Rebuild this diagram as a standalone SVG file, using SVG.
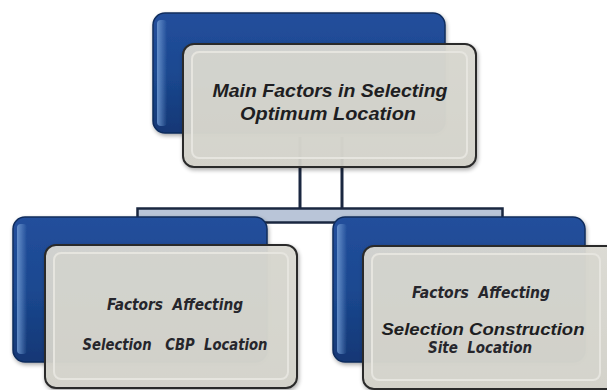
<svg xmlns="http://www.w3.org/2000/svg" width="607" height="390" viewBox="0 0 607 390">
<defs>
<linearGradient id="blueG" x1="0" y1="0" x2="0" y2="1">
<stop offset="0" stop-color="#234f9c"/>
<stop offset="0.5" stop-color="#1b4890"/>
<stop offset="1" stop-color="#133775"/>
</linearGradient>
<linearGradient id="blueEdge" x1="0" y1="0" x2="1" y2="0">
<stop offset="0" stop-color="#6d97d0" stop-opacity="0.9"/>
<stop offset="1" stop-color="#6d97d0" stop-opacity="0"/>
</linearGradient>
<linearGradient id="grayG" x1="0" y1="0" x2="0" y2="1">
<stop offset="0" stop-color="#dcdbd4"/>
<stop offset="1" stop-color="#d3d2ca"/>
</linearGradient>
<filter id="sh" x="-10%" y="-10%" width="120%" height="130%">
<feGaussianBlur in="SourceAlpha" stdDeviation="2"/>
<feOffset dx="1" dy="2"/>
<feComponentTransfer><feFuncA type="linear" slope="0.35"/></feComponentTransfer>
<feMerge><feMergeNode/><feMergeNode in="SourceGraphic"/></feMerge>
</filter>
</defs>
<style>
.blue{fill:url(#blueG);stroke:#0f2c5c;stroke-width:1.5}
.hl{fill:url(#blueEdge)}
.gray{fill:url(#grayG);fill-opacity:0.93;stroke:#2b2b2b;stroke-width:2}
.inner{fill:#d6d5cd;fill-opacity:0.6;stroke:#e6e5df;stroke-width:2}
.conn{stroke:#1a2740;stroke-width:3;fill:none}
.t1{font-family:"Liberation Sans",Arial,sans-serif;font-weight:bold;font-style:italic;fill:#1e1e22;text-anchor:middle}
.t2{font-family:"DejaVu Sans Condensed","Liberation Sans",sans-serif;font-weight:bold;font-style:italic;fill:#26262c;text-anchor:middle;white-space:pre}
</style>

<g id="connectors">
<line class="conn" x1="300" y1="137" x2="300" y2="209"/>
<line class="conn" x1="342" y1="137" x2="342" y2="209"/>
<rect x="137.5" y="208.5" width="365" height="14" fill="#b9c5d8" stroke="#1a2740" stroke-width="2.5"/>
</g>

<g id="top">
<g filter="url(#sh)">
<rect class="blue" x="153" y="13" width="292" height="120" rx="12"/>
<rect class="hl" x="157" y="20" width="10" height="106" rx="4"/>
</g>
<g filter="url(#sh)">
<rect class="gray" x="183" y="44" width="293" height="123" rx="11"/>
<rect class="inner" x="192" y="52" width="275" height="106" rx="7"/>
</g>
<text class="t1" x="330" y="97" font-size="18" textLength="235" lengthAdjust="spacingAndGlyphs">Main Factors in Selecting</text>
<text class="t1" x="328" y="120" font-size="18" textLength="176" lengthAdjust="spacingAndGlyphs">Optimum Location</text>
</g>

<g id="left">
<g filter="url(#sh)">
<rect class="blue" x="13" y="217" width="254" height="145" rx="12"/>
<rect class="hl" x="17" y="224" width="10" height="130" rx="4"/>
</g>
<g filter="url(#sh)">
<rect class="gray" x="45" y="245" width="252" height="143" rx="11"/>
<rect class="inner" x="54" y="253" width="234" height="126" rx="7"/>
</g>
<text class="t2" x="175" y="310" font-size="15" textLength="136" lengthAdjust="spacingAndGlyphs">Factors  Affecting</text>
<text class="t2" x="175" y="350" font-size="15" textLength="185" lengthAdjust="spacingAndGlyphs">Selection   CBP  Location</text>
</g>

<g id="right">
<g filter="url(#sh)">
<rect class="blue" x="333" y="217" width="252" height="145" rx="12"/>
<rect class="hl" x="337" y="224" width="10" height="130" rx="4"/>
</g>
<g filter="url(#sh)">
<rect class="gray" x="363" y="246" width="262" height="143" rx="11"/>
<rect class="inner" x="372" y="254" width="228" height="126" rx="7"/>
</g>
<text class="t2" x="481" y="298" font-size="15" textLength="138" lengthAdjust="spacingAndGlyphs">Factors  Affecting</text>
<text class="t1" x="483" y="335" font-size="17" textLength="203" lengthAdjust="spacingAndGlyphs">Selection Construction</text>
<text class="t2" x="480" y="353" font-size="15" textLength="104" lengthAdjust="spacingAndGlyphs">Site  Location</text>
</g>
</svg>
